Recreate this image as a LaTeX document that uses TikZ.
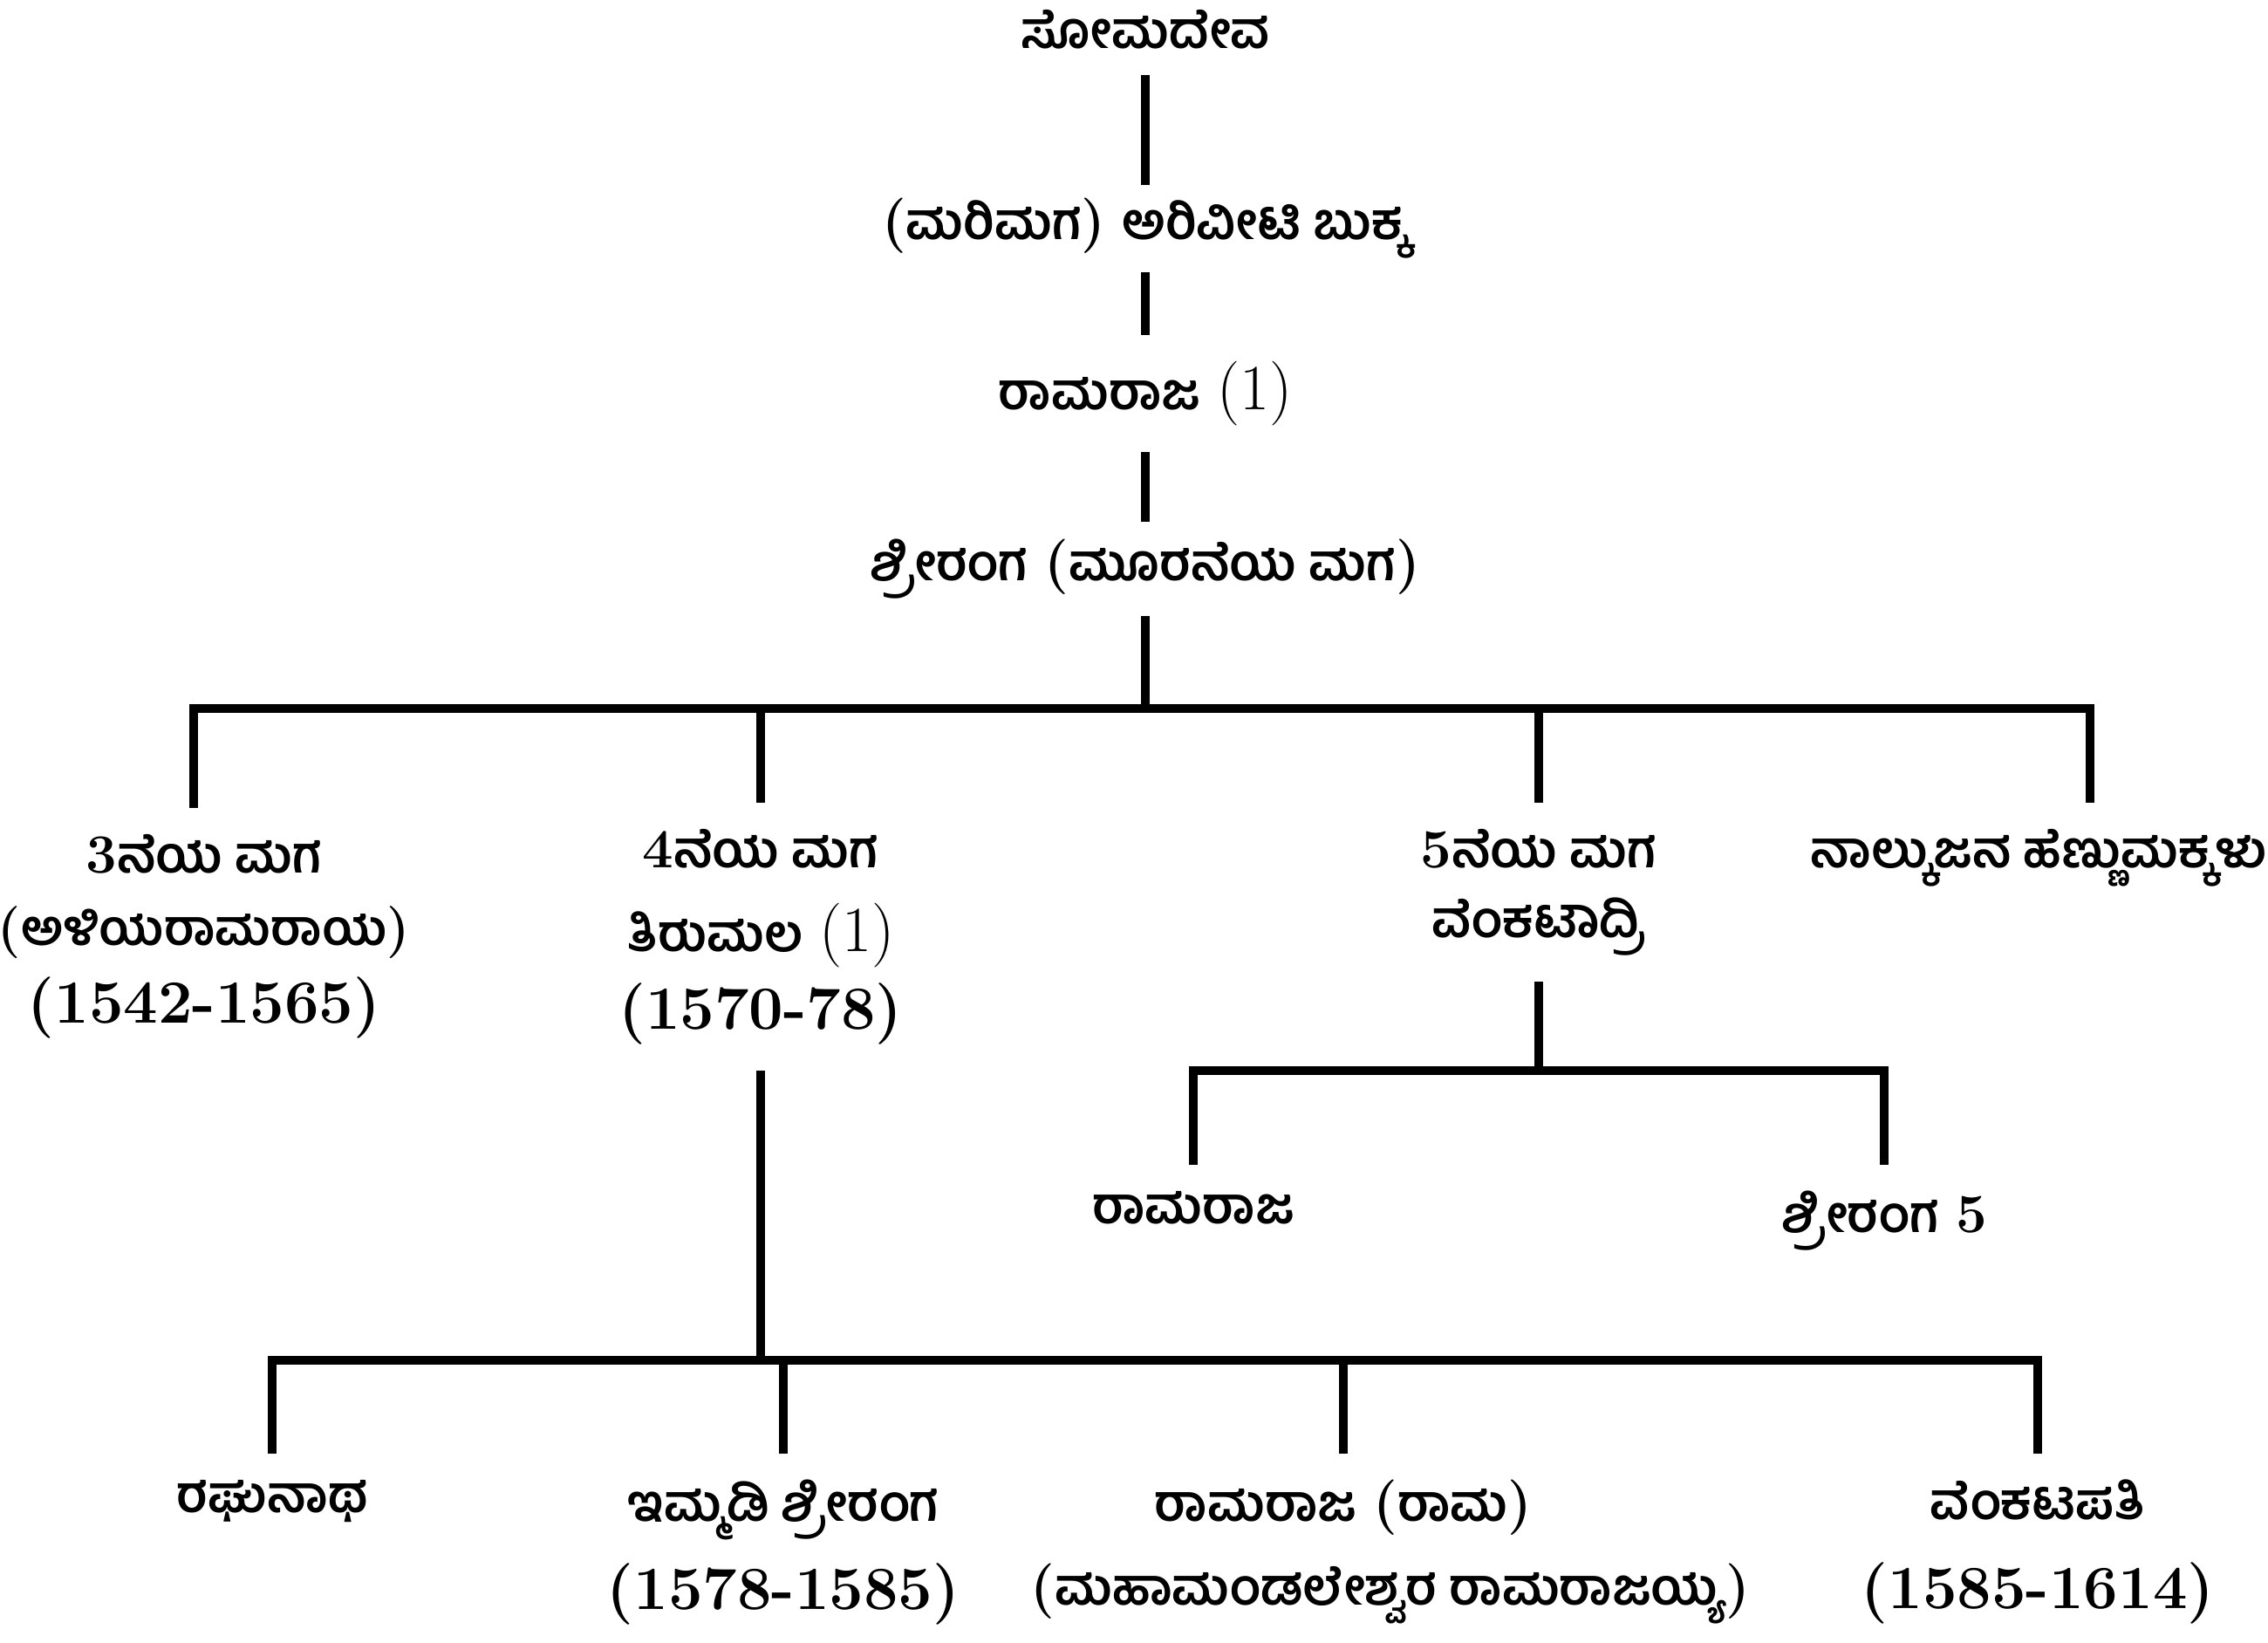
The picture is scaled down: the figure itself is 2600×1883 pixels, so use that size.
\documentclass[tikz,border=0pt]{standalone}
\usepackage{fontspec}
\newfontfamily\knfont[Script=Kannada]{Hind Mysuru}
\newcommand{\K}[1]{{\fontsize{16.5}{22.8}\selectfont\knfont\bfseries #1}}
\newcommand{\KP}[1]{{\bfseries(}\K{#1}{\bfseries)}}
\newcommand{\KPs}[1]{{\fontsize{17}{22.8}\selectfont\bfseries(}{\fontsize{16}{22.8}\selectfont\knfont\bfseries #1}{\fontsize{17}{22.8}\selectfont\bfseries)}}
\newcommand{\D}[1]{{\fontsize{20}{22.8}\selectfont\bfseries #1}}
\newcommand{\N}[1]{{\fontsize{21}{22.8}\selectfont #1}}
\begin{document}
\begin{tikzpicture}[x=0.01cm,y=-0.01cm,
  link/.style={line width=0.1cm},
  lab/.style={inner sep=0pt, outer ysep=0.3cm, outer xsep=0pt, align=center,
              font=\fontsize{18}{22.8}\selectfont}]
\useasboundingbox (0,0) rectangle (2600,1883);
% chain
\node[lab] (n1) at (1313,34) {\K{ಸೋಮದೇವ}};
\node[lab, outer ysep=0.15cm] (n2) at (1313,262) {\KP{ಮರಿಮಗ} \K{ಅರಿವೀಟಿ ಬುಕ್ಕ}};
\node[lab] (n3) at (1313,451) {\K{ರಾಮರಾಜ} \N{(1)}};
\node[lab, outer ysep=0.2cm] (n4) at (1313,652) {\K{ಶ್ರೀರಂಗ} \KP{ಮೂರನೆಯ ಮಗ}};
\coordinate (j1) at (1313,812);
\draw[link] (n1) -- (n2);
\draw[link] (n2) -- (n3);
\draw[link] (n3) -- (n4);
\draw[link] (n4) -- (j1);
% sons
\node[lab, anchor=north] (c3) at (234,926) {\textbf{3}\K{ನೆಯ ಮಗ}\\[1pt]\KPs{ಅಳಿಯರಾಮರಾಯ}\\[2.5pt]\D{(1542-1565)}};
\node[lab, anchor=north] (c4) at (872,920) {\textbf{4}\K{ನೆಯ ಮಗ}\\[4.5pt]\K{ತಿರುಮಲ} \N{(1)}\\[2.5pt]\D{(1570-78)}};
\node[lab, anchor=north] (c5) at (1764,920) {\textbf{5}\K{ನೆಯ ಮಗ}\\\K{ವೆಂಕಟಾದ್ರಿ}};
\node[lab, anchor=north] (d) at (2337,920) {\K{ನಾಲ್ಕುಜನ ಹೆಣ್ಣುಮಕ್ಕಳು}};
\coordinate (b3) at (222,812);
\coordinate (b6) at (2396,812);
\draw[link] (b3 |- c3.north) -- (b3) -- (b6) -- (b6 |- d.north);
\draw[link] (c4) -- (c4 |- j1);
\draw[link] (c5) -- (c5 |- j1);
% children of 5th son
\coordinate (j2) at (1764,1227);
\draw[link] (c5) -- (j2);
\node[lab, anchor=north] (g1) at (1368,1335) {\K{ರಾಮರಾಜ}};
\node[lab, anchor=north] (g2) at (2160,1335) {\K{ಶ್ರೀರಂಗ} \textbf{5}};
\draw[link] (g1) -- (g1 |- j2) -- (g2 |- j2) -- (g2);
% children of 4th son
\coordinate (j3) at (872,1559);
\draw[link] (c4) -- (j3);
\node[lab, anchor=north] (h1) at (312,1666) {\K{ರಘುನಾಥ}};
\node[lab, anchor=north] (h2) at (898,1666) {\K{ಇಮ್ಮಡಿ ಶ್ರೀರಂಗ}\\[6pt]\D{(1578-1585)}};
\node[lab, anchor=north] (h3) at (1540,1666) {\K{ರಾಮರಾಜ} \KP{ರಾಮ}};
\node[lab] (h3b) at (1594,1827) {\KP{ಮಹಾಮಂಡಲೇಶ್ವರ ರಾಮರಾಜಯ್ಯ}};
\node[lab, anchor=north] (h4) at (2336,1666) {\K{ವೆಂಕಟಪತಿ}\\[6pt]\D{(1585-1614)}};
\draw[link] (h1) -- (h1 |- j3) -- (h4 |- j3) -- (h4);
\draw[link] (h2) -- (h2 |- j3);
\draw[link] (h3) -- (h3 |- j3);
\end{tikzpicture}
\end{document}
